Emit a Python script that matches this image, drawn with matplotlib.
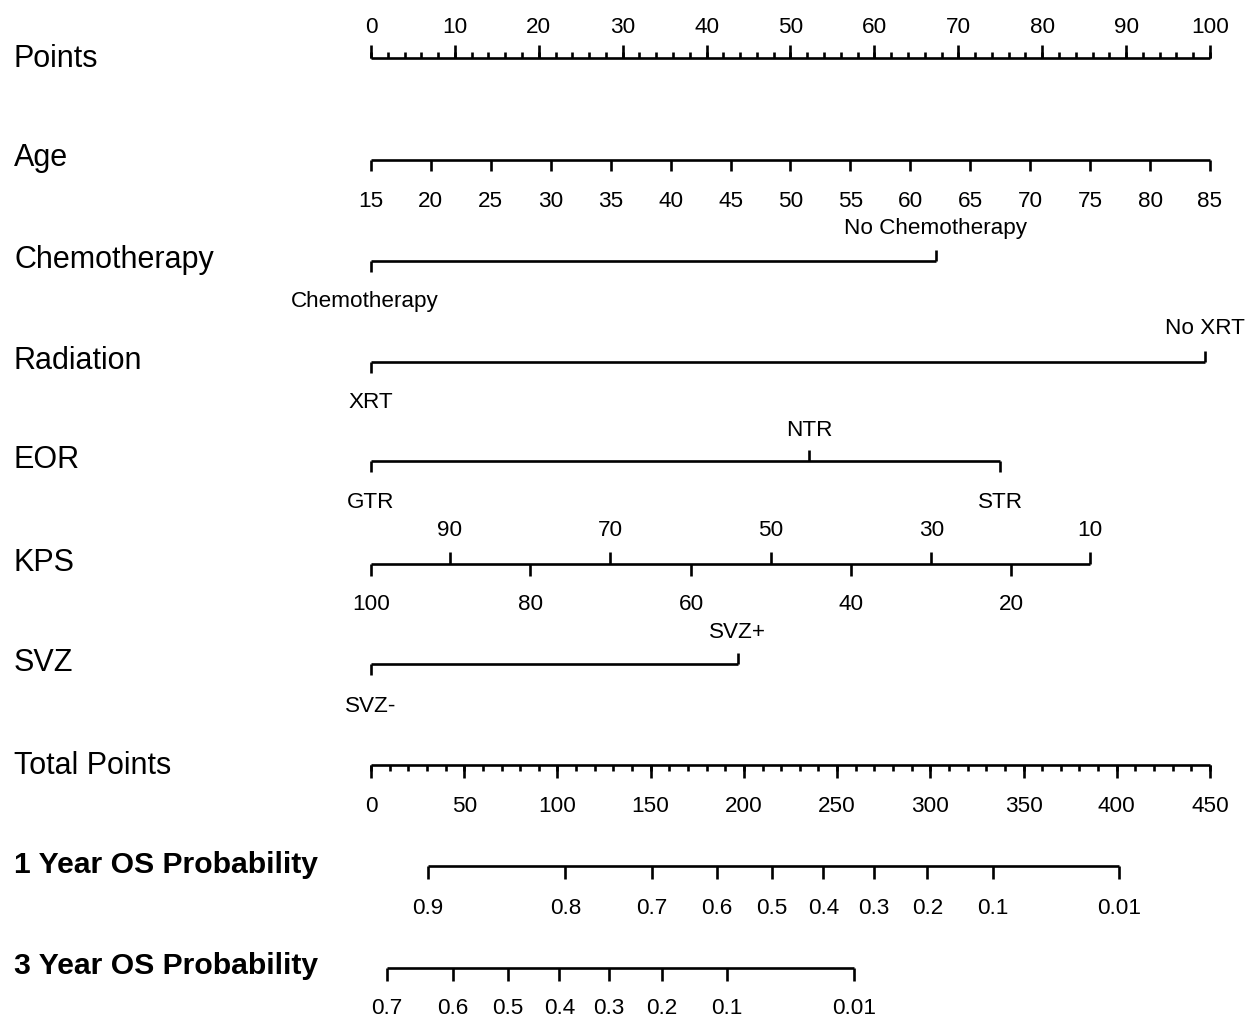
import matplotlib
matplotlib.use("Agg")
import matplotlib.pyplot as plt

plt.rcParams['font.family'] = ['Liberation Sans', 'DejaVu Sans']

# ---- data (positions on the 0-100 "Points" scale) ----
points_major = list(range(0, 101, 10))
points_minor = list(range(0, 101, 2))

age_vals = list(range(15, 86, 5))
age_pts = [(a - 15) / 70 * 100 for a in age_vals]

chemo_labels = ["Chemotherapy", "No Chemotherapy"]
chemo_pts = [0, 67.3]

rad_labels = ["XRT", "No XRT"]
rad_pts = [0, 99.4]

eor_labels = ["GTR", "NTR", "STR"]
eor_pts = [0, 52.2, 75.0]

kps_vals = [100, 90, 80, 70, 60, 50, 40, 30, 20, 10]
kps_pts = [0, 9.4, 19.0, 28.5, 38.2, 47.7, 57.2, 66.8, 76.3, 85.7]

svz_labels = ["SVZ-", "SVZ+"]
svz_pts = [0, 43.7]

total_major = list(range(0, 451, 50))
total_minor = list(range(0, 451, 10))

os1_probs = ["0.9", "0.8", "0.7", "0.6", "0.5", "0.4", "0.3", "0.2", "0.1", "0.01"]
os1_total = [30.4, 104.2, 150.6, 185.4, 215.1, 242.6, 269.8, 298.4, 333.5, 401.4]

os3_probs = ["0.7", "0.6", "0.5", "0.4", "0.3", "0.2", "0.1", "0.01"]
os3_total = [8.4, 43.8, 73.6, 101.0, 127.5, 156.2, 191.1, 259.1]

TOTAL_MAX = 450

# ---- figure ----
fig = plt.figure(figsize=(12.47, 10.19), dpi=100)
ax = fig.add_axes([0, 0, 1, 1])
ppx = 8.39  # pixels per point
ax.set_xlim(-371 / ppx, (1247 - 371) / ppx)
ax.set_ylim(1019, 0)
ax.axis('off')

LW = 1.9
FS_TICK = 16.2
FS_ROW = 22
FS_BOLD = 21.7
DY = 2  # small vertical nudge for text


def tot2pts(v):
    return v * 100 / TOTAL_MAX


def draw_line(y, xs):
    ax.plot([min(xs), max(xs)], [y, y], color='black', lw=LW, solid_capstyle='butt')


def tick(x, y, length, up):
    d = -length if up else length
    ax.plot([x, x], [y, y + d], color='black', lw=LW, solid_capstyle='butt')


def tlabel(x, y, s):
    ax.text(x, y + DY, s, fontsize=FS_TICK, ha='center', va='center')


def row_label(y, text, bold=False):
    ax.text(-371 / ppx + 14 / ppx, y + 3, text, fontsize=FS_BOLD if bold else FS_ROW,
            va='center', ha='left', fontweight='bold' if bold else 'normal')


# Points
y = 58
draw_line(y, points_major)
for p in points_minor:
    tick(p, y, 6, True)
for p in points_major:
    tick(p, y, 13, True)
    tlabel(p, 25, str(p))
row_label(56, "Points")

# Age
y = 160
draw_line(y, age_pts)
for a, p in zip(age_vals, age_pts):
    tick(p, y, 11, False)
    tlabel(p, 199, str(a))
row_label(155, "Age")

# categorical rows: (y line, labels, pts, upper-label flags, label y up, label y down, name)
cat_rows = [
    (261, chemo_labels, chemo_pts, [False, True], 226, 300, "Chemotherapy"),
    (362, rad_labels, rad_pts, [False, True], 327, 400, "Radiation"),
    (461, eor_labels, eor_pts, [False, True, False], 428, 500, "EOR"),
    (664, svz_labels, svz_pts, [False, True], 630, 704, "SVZ"),
]
for yl, labs, pts, ups, yu, yd, name in cat_rows:
    draw_line(yl, pts)
    for lab, p, up in zip(labs, pts, ups):
        tick(p, yl, 11, up)
        dx = 0
        if lab == "Chemotherapy":
            dx = -6.5 / ppx
        tlabel(p + dx, yu if up else yd, lab)
    row_label(yl - 4, name)

# KPS
y = 564
draw_line(y, kps_pts)
for i, (k, p) in enumerate(zip(kps_vals, kps_pts)):
    up = (i % 2 == 1)
    tick(p, y, 12, up)
    tlabel(p, 529 if up else 603, str(k))
row_label(560, "KPS")

# Total Points
y = 765
draw_line(y, [tot2pts(v) for v in total_major])
for v in total_minor:
    tick(tot2pts(v), y, 6, False)
for v in total_major:
    tick(tot2pts(v), y, 13, False)
    tlabel(tot2pts(v), 805, str(v))
row_label(763, "Total Points")

# 1 Year OS
y = 866
xs = [tot2pts(v) for v in os1_total]
draw_line(y, xs)
for lab, x in zip(os1_probs, xs):
    tick(x, y, 13, False)
    tlabel(x, 907, lab)
row_label(862, "1 Year OS Probability", bold=True)

# 3 Year OS
y = 968
xs = [tot2pts(v) for v in os3_total]
draw_line(y, xs)
for lab, x in zip(os3_probs, xs):
    tick(x, y, 13, False)
    tlabel(x, 1006, lab)
row_label(963, "3 Year OS Probability", bold=True)

fig.savefig("out.png", dpi=100)
